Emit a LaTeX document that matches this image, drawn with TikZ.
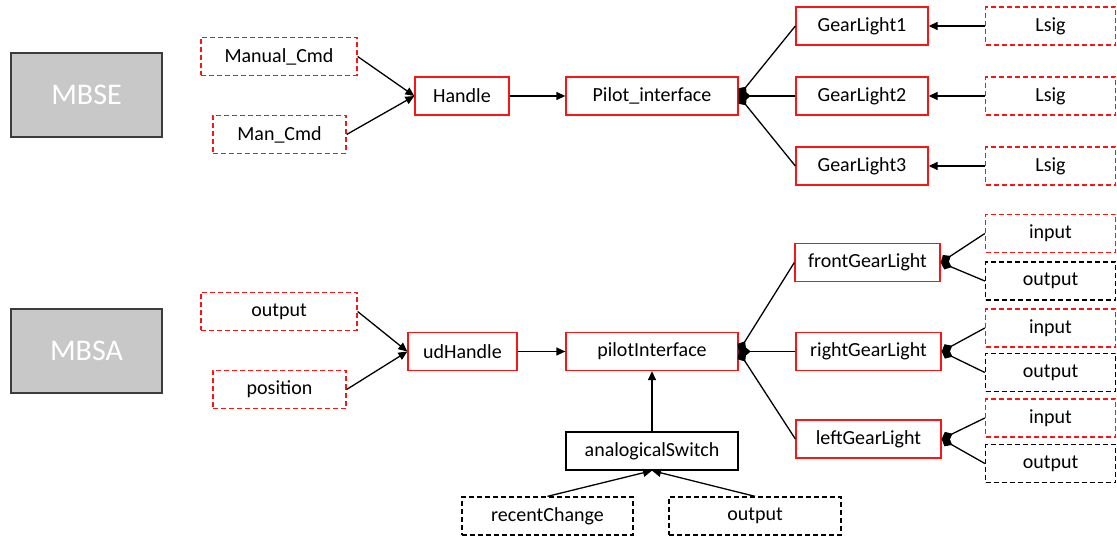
\documentclass[tikz,border=0pt]{standalone}
\usepackage{fontspec}
\setmainfont{Carlito}
\usetikzlibrary{arrows.meta}
\definecolor{boxred}{RGB}{250,20,20}
\definecolor{boxgray}{RGB}{200,200,200}
\definecolor{edgegray}{RGB}{60,60,60}
\tikzset{
  base/.style={rectangle, inner sep=0pt, line width=1.3pt, font=\fontsize{20}{23}\selectfont, minimum height=38pt},
  redbox/.style={base, draw=boxred},
  reddash/.style={base, draw=boxred, dash pattern=on 5pt off 3pt},
  blackbox/.style={base, draw=black},
  blackdash/.style={base, draw=black, dash pattern=on 5pt off 3pt},
  graybox/.style={rectangle, inner sep=0pt, fill=boxgray, draw=edgegray, line width=1.5pt, text=white, font=\fontsize{30}{34}\selectfont, minimum width=151pt, minimum height=84pt},
  arr/.style={line width=1.3pt, -{Triangle[length=9pt,width=8pt]}},
  comp/.style={line width=1.3pt, -{Diamond[length=12pt,width=10pt]}}
}
\begin{document}
\begin{tikzpicture}[x=1pt,y=-1pt]
\useasboundingbox (0,0) rectangle (1117,537);
% top
\node[graybox] (mbse) at (86.5,95) {MBSE};
\node[reddash, minimum width=156pt] (manual) at (279,56.5) {Manual\_Cmd};
\node[reddash, minimum width=133pt] (mancmd) at (279.5,134.5) {Man\_Cmd};
\node[redbox, minimum width=94pt] (handle) at (462,96) {Handle};
\node[redbox, minimum width=172pt] (pilot) at (652,96) {Pilot\_interface};
\node[redbox, minimum width=132pt] (gl1) at (862,26) {GearLight1};
\node[redbox, minimum width=132pt] (gl2) at (862,96) {GearLight2};
\node[redbox, minimum width=132pt] (gl3) at (862,166) {GearLight3};
\node[reddash, minimum width=130pt] (ls1) at (1050.5,26) {Lsig};
\node[reddash, minimum width=130pt] (ls2) at (1050.5,96) {Lsig};
\node[reddash, minimum width=130pt] (ls3) at (1050.5,166) {Lsig};
\draw[arr] (manual.east) -- (handle.west);
\draw[arr] (mancmd.east) -- (handle.west);
\draw[arr] (handle.east) -- (pilot.west);
\draw[comp] (gl1.west) -- (pilot.east);
\draw[comp] (gl2.west) -- (pilot.east);
\draw[comp] (gl3.west) -- (pilot.east);
\draw[arr] (ls1.west) -- (gl1.east);
\draw[arr] (ls2.west) -- (gl2.east);
\draw[arr] (ls3.west) -- (gl3.east);
% bottom
\node[graybox] (mbsa) at (86.5,351) {MBSA};
\node[reddash, minimum width=156pt] (out0) at (279,311.5) {output};
\node[reddash, minimum width=133pt] (pos) at (279.5,389.5) {position};
\node[redbox, minimum width=109pt] (udh) at (462.5,351.5) {udHandle};
\node[redbox, minimum width=172pt] (pint) at (652,351.5) {pilotInterface};
\node[blackbox, minimum width=172pt] (asw) at (652,451) {analogicalSwitch};
\node[blackdash, minimum width=171pt] (rc) at (547.5,516) {recentChange};
\node[blackdash, minimum width=172pt] (out1) at (755,516) {output};
\node[redbox, minimum width=145pt] (fgl) at (867.5,262.5) {frontGearLight};
\node[redbox, minimum width=145pt] (rgl) at (868.5,351.5) {rightGearLight};
\node[redbox, minimum width=145pt] (lgl) at (868.5,439) {leftGearLight};
\node[reddash, minimum width=130pt] (in1) at (1050.5,233.5) {input};
\node[blackdash, minimum width=130pt] (oa) at (1050.5,281) {output};
\node[reddash, minimum width=130pt] (in2) at (1050.5,328) {input};
\node[blackdash, minimum width=130pt] (ob) at (1050.5,372.5) {output};
\node[reddash, minimum width=130pt] (in3) at (1050.5,418) {input};
\node[blackdash, minimum width=130pt] (oc) at (1050.5,463.5) {output};
\draw[arr] (out0.east) -- (udh.west);
\draw[arr] (pos.east) -- (udh.west);
\draw[arr] (udh.east) -- (pint.west);
\draw[arr] (asw.north) -- (pint.south);
\draw[arr] (rc.north) -- (asw.south);
\draw[arr] (out1.north) -- (asw.south);
\draw[comp] (fgl.west) -- (pint.east);
\draw[comp] (rgl.west) -- (pint.east);
\draw[comp] (lgl.west) -- (pint.east);
\draw[comp] (in1.west) -- (fgl.east);
\draw[comp] (oa.west) -- (fgl.east);
\draw[comp] (in2.west) -- (rgl.east);
\draw[comp] (ob.west) -- (rgl.east);
\draw[comp] (in3.west) -- (lgl.east);
\draw[comp] (oc.west) -- (lgl.east);
\end{tikzpicture}
\end{document}
